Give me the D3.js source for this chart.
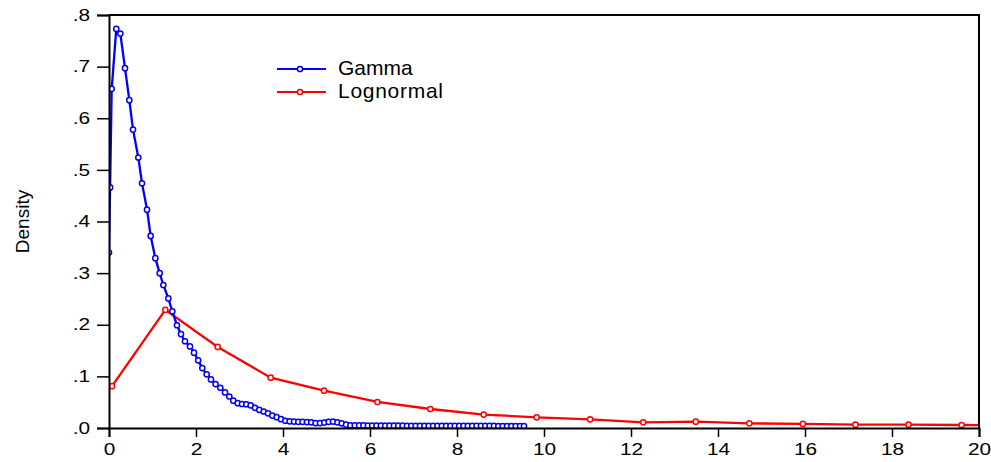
<!DOCTYPE html>
<html>
<head>
<meta charset="utf-8">
<script src="https://cdn.jsdelivr.net/npm/d3@7"></script>
<style>
  body { margin: 0; background: #fff; }
  svg text { font-family: "Liberation Sans", Arial, sans-serif; fill: #000; }
</style>
</head>
<body>
<div id="chart"></div>
<script>
// values
const gammaX = [0.00, 0.025, 0.062, 0.168, 0.26, 0.368, 0.467, 0.552, 0.674, 0.759, 0.874,
  0.958, 1.065, 1.165, 1.249, 1.364, 1.456, 1.563, 1.655, 1.747, 1.862, 1.954,
  2.05, 2.145, 2.245, 2.345, 2.45, 2.56, 2.667, 2.766, 2.857, 2.96,
  3.057, 3.157, 3.257, 3.356, 3.456, 3.556, 3.655, 3.755, 3.855, 3.954,
  4.053, 4.154, 4.253, 4.352, 4.45, 4.55, 4.65, 4.75, 4.85, 4.95,
  5.05, 5.15, 5.25, 5.35, 5.45, 5.55, 5.65, 5.75, 5.85, 5.95,
  6.05, 6.15, 6.25, 6.35, 6.45, 6.55, 6.65, 6.75, 6.85, 6.95,
  7.05, 7.15, 7.25, 7.35, 7.45, 7.55, 7.65, 7.75, 7.85, 7.95,
  8.05, 8.15, 8.25, 8.35, 8.45, 8.55, 8.65, 8.75, 8.85, 8.95,
  9.05, 9.15, 9.25, 9.35, 9.45, 9.54];
const gammaY = [0.34, 0.466, 0.657, 0.773, 0.764, 0.697, 0.635, 0.578, 0.524, 0.474, 0.423,
  0.372, 0.329, 0.300, 0.277, 0.251, 0.226, 0.199, 0.182, 0.168, 0.158, 0.146,
  0.131, 0.116, 0.104, 0.094, 0.085, 0.078, 0.069, 0.061, 0.053, 0.048,
  0.0465, 0.046, 0.044, 0.039, 0.035, 0.032, 0.0285, 0.024, 0.021, 0.017,
  0.014, 0.013, 0.0125, 0.012, 0.012, 0.0115, 0.011, 0.0095, 0.0095, 0.0105,
  0.012, 0.0125, 0.011, 0.009, 0.0065, 0.005, 0.005, 0.005, 0.005, 0.0048,
  0.0048, 0.0047, 0.0047, 0.0046, 0.0046, 0.0045, 0.0045, 0.0045, 0.0044, 0.0044,
  0.0044, 0.0043, 0.0043, 0.0043, 0.0042, 0.0042, 0.0042, 0.0041, 0.0041, 0.0041,
  0.004, 0.004, 0.004, 0.004, 0.0042, 0.0043, 0.0043, 0.0042, 0.004, 0.0039,
  0.0039, 0.0038, 0.0038, 0.0038, 0.0037, 0.0037];

const lognormX = [0.07, 1.295, 2.498, 3.717, 4.943, 6.17, 7.387, 8.613, 9.83,
  11.06, 12.28, 13.49, 14.72, 15.95, 17.16, 18.38, 19.60, 20.83];
const lognormY = [0.081, 0.229, 0.157, 0.0975, 0.0723, 0.0504, 0.0368, 0.026, 0.0207,
  0.0168, 0.011, 0.0122, 0.009, 0.0078, 0.0064, 0.0064, 0.0058, 0.0045];

const xTicks = [0, 2, 4, 6, 8, 10, 12, 14, 16, 18, 20];
const yTicks = [0, 0.1, 0.2, 0.3, 0.4, 0.5, 0.6, 0.7, 0.8];
const yTickLabels = [".0", ".1", ".2", ".3", ".4", ".5", ".6", ".7", ".8"];

const seriesNames = ["Gamma", "Lognormal"];
const seriesColors = ["#0000ff", "#ff0000"];

const width = 991, height = 462;
const margin = { top: 15, right: 12, bottom: 34, left: 109 };

const svg = d3.select("#chart").append("svg")
  .attr("width", width)
  .attr("height", height);

const x = d3.scaleLinear().domain([0, 20]).range([margin.left, width - margin.right]);
const y = d3.scaleLinear().domain([0, 0.8]).range([height - margin.bottom, margin.top]);

svg.append("clipPath").attr("id", "plotClip")
  .append("rect")
  .attr("x", x(0)).attr("y", y(0.8) - 6)
  .attr("width", x(20) - x(0)).attr("height", y(0) - y(0.8) + 6);

const series = [
  { name: seriesNames[0], color: seriesColors[0], pts: gammaX.map((v, i) => [v, gammaY[i]]) },
  { name: seriesNames[1], color: seriesColors[1], pts: lognormX.map((v, i) => [v, lognormY[i]]) }
];

const line = d3.line().x(d => x(d[0])).y(d => y(d[1]));

const plot = svg.append("g").attr("clip-path", "url(#plotClip)");

// lognormal first so gamma sits on top
[series[1], series[0]].forEach(s => {
  plot.append("path")
    .datum(s.pts)
    .attr("fill", "none")
    .attr("stroke", s.color)
    .attr("stroke-width", 2.3)
    .attr("d", line);

  plot.selectAll(null)
    .data(s.pts)
    .enter().append("circle")
    .attr("cx", d => x(d[0]))
    .attr("cy", d => y(d[1]))
    .attr("r", 2.6)
    .attr("fill", "#fff")
    .attr("stroke", s.color)
    .attr("stroke-width", 1.5);
});

// frame top / right
svg.append("path")
  .attr("d", `M${x(0)},${y(0.8)}H${x(20)}V${y(0)}`)
  .attr("fill", "none")
  .attr("stroke", "#000")
  .attr("stroke-width", 2);

// axes
const xAxis = svg.append("g")
  .attr("transform", `translate(0,${y(0)})`)
  .call(d3.axisBottom(x).tickValues(xTicks).tickFormat(d3.format("d")).tickSize(9).tickPadding(7));

const yAxis = svg.append("g")
  .attr("transform", `translate(${x(0)},0)`)
  .call(d3.axisLeft(y).tickValues(yTicks).tickFormat((d, i) => yTickLabels[i]).tickSize(12).tickPadding(7));

// the original's tick labels are drawn a bit wide, stretch them horizontally
[xAxis, yAxis].forEach(a => {
  a.select(".domain").attr("stroke", "#000").attr("stroke-width", 2);
  a.selectAll(".tick line").attr("stroke", "#000").attr("stroke-width", 1.5);
  a.selectAll(".tick text")
    .attr("font-size", 16)
    .attr("font-family", "Liberation Sans, Arial, sans-serif")
    .each(function () {
      const w = this.getComputedTextLength();
      d3.select(this).attr("textLength", w * 1.3).attr("lengthAdjust", "spacingAndGlyphs");
    });
});

// y title
svg.append("text")
  .attr("transform", `translate(29,${(y(0) + y(0.8)) / 2}) rotate(-90)`)
  .attr("text-anchor", "middle")
  .attr("font-size", 19)
  .text("Density");

// legend
const legend = svg.append("g").attr("transform", "translate(277,69)");
series.forEach((s, i) => {
  const g = legend.append("g").attr("transform", `translate(0,${i * 23})`);
  g.append("line")
    .attr("x1", 0).attr("x2", 49)
    .attr("stroke", s.color).attr("stroke-width", 1.8);
  g.append("circle")
    .attr("cx", 23).attr("r", 2.6)
    .attr("fill", "#fff").attr("stroke", s.color).attr("stroke-width", 1.5);
  const t = g.append("text")
    .attr("x", 61).attr("dy", "0.3em")
    .attr("font-size", 21)
    .text(s.name);
  if (i === 1) t.attr("textLength", 105).attr("lengthAdjust", "spacing");
});
</script>
</body>
</html>
